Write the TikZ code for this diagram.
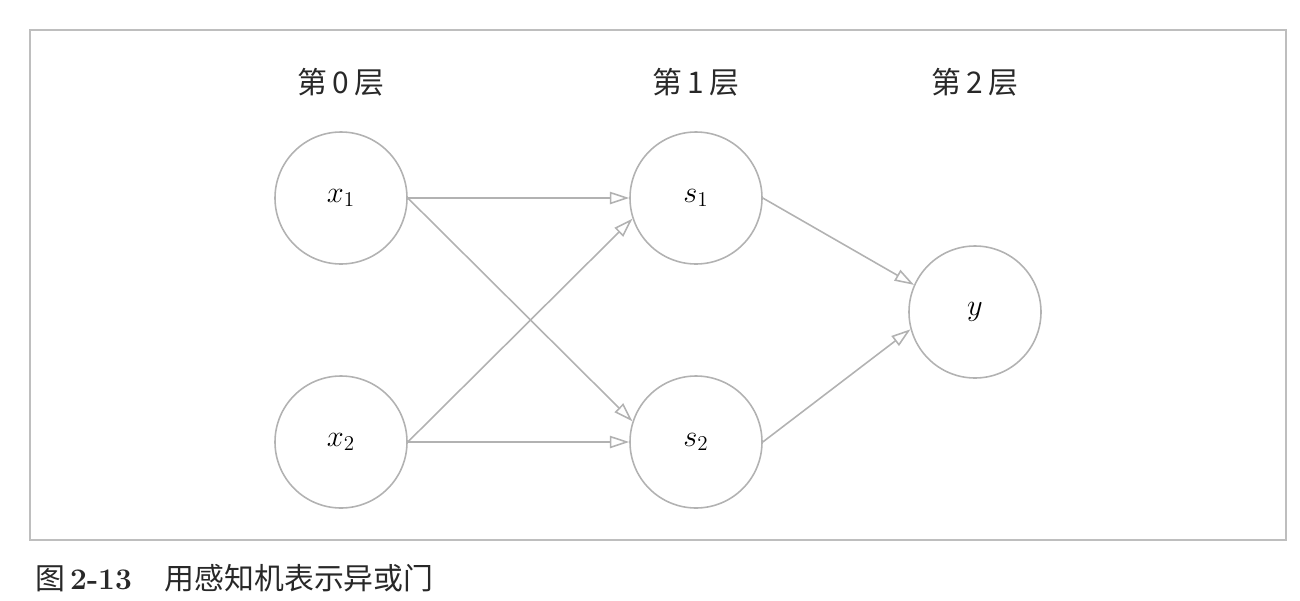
\documentclass[tikz,border=0pt]{standalone}
\usepackage{fontspec}
\newfontfamily\cjk{Noto Sans CJK SC}
\usepackage{tikz}
\usetikzlibrary{arrows.meta,positioning}
\definecolor{linegray}{RGB}{178,178,178}
\definecolor{framegray}{RGB}{190,190,190}
\definecolor{textdark}{RGB}{40,40,40}
\tikzset{
    neuron/.style={circle, draw=linegray, line width=0.9pt, minimum size=2.64cm, inner sep=0pt, font=\fontsize{17}{20}\selectfont},
    layer/.style={font=\cjk\fontsize{17}{20}\selectfont, text=textdark},
    conn/.style={-{Triangle[open, length=11pt, width=7pt]}, draw=linegray, line width=0.9pt}
}

\begin{document}
\begin{tikzpicture}
        \useasboundingbox (0,0) rectangle (26,-12);
        % Moldura
        \draw[framegray, line width=0.9pt] (0.6,-0.6) rectangle (25.72,-10.8);

        % Camadas
        \node[layer] (L0) at (6.82,-1.64) {第\,0\,层};
        \node[layer] (L1) at (13.92,-1.64) {第\,1\,层};
        \node[layer] (L2) at (19.5,-1.64) {第\,2\,层};

        % Neuronios
        \node[neuron] (x1) at (6.82,-3.96) {$x_1$};
        \node[neuron] (x2) at (6.82,-8.84) {$x_2$};
        \node[neuron] (s1) at (13.92,-3.96) {$s_1$};
        \node[neuron] (s2) at (13.92,-8.84) {$s_2$};
        \node[neuron] (y) at (19.5,-6.24) {$y$};

        % Ligacoes
        \draw[conn] (x1.east) -- (s1.west);
        \draw[conn] (x1.east) -- (s2.162);
        \draw[conn] (x2.east) -- (s1.198);
        \draw[conn] (x2.east) -- (s2.west);
        \draw[conn] (s1.east) -- (y.156);
        \draw[conn] (s2.east) -- (y.195);

        % Legenda
        \node[anchor=west, text=textdark, font=\fontsize{17}{20}\selectfont, inner sep=0pt] (cap) at (0.7,-11.56) {{\cjk 图}\,\textbf{2-13}\hspace{1.1em}{\cjk 用感知机表示异或门}};
    \end{tikzpicture}
\end{document}
